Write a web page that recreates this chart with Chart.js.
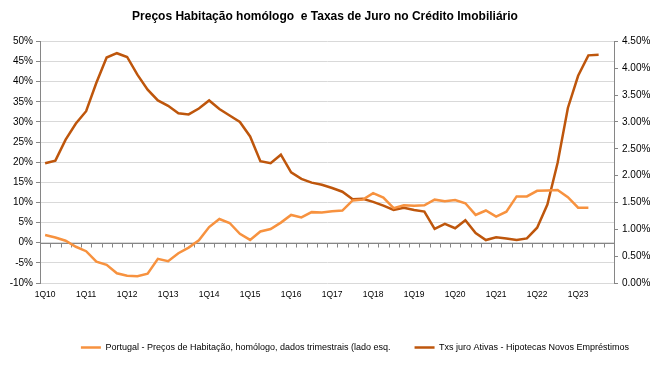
<!DOCTYPE html>
<html lang="pt">
<head>
  <meta charset="UTF-8" />
  <title>Preços Habitação e Taxas de Juro</title>
  <script src="https://cdn.jsdelivr.net/npm/chart.js"></script>
  <style>
    body { margin: 0; background: #fff; }
    #caixa { width: 650px; height: 384px; }
  </style>
</head>
<body>
  <div id="caixa"><canvas id="grafico"></canvas></div>

  <script>
    // trimestres 1Q10 .. 4Q23
    const trimestres = [
      '1Q10', '2Q10', '3Q10', '4Q10', '1Q11', '2Q11', '3Q11', '4Q11',
      '1Q12', '2Q12', '3Q12', '4Q12', '1Q13', '2Q13', '3Q13', '4Q13',
      '1Q14', '2Q14', '3Q14', '4Q14', '1Q15', '2Q15', '3Q15', '4Q15',
      '1Q16', '2Q16', '3Q16', '4Q16', '1Q17', '2Q17', '3Q17', '4Q17',
      '1Q18', '2Q18', '3Q18', '4Q18', '1Q19', '2Q19', '3Q19', '4Q19',
      '1Q20', '2Q20', '3Q20', '4Q20', '1Q21', '2Q21', '3Q21', '4Q21',
      '1Q22', '2Q22', '3Q22', '4Q22', '1Q23', '2Q23', '3Q23', '4Q23'
    ];

    // variação homóloga dos preços (%), eixo esquerdo
    const precosHabitacao = [
      1.9, 1.3, 0.5, -1.0, -2.1, -4.7, -5.5, -7.6,
      -8.2, -8.3, -7.7, -4.0, -4.6, -2.6, -1.2, 0.6,
      3.9, 5.9, 4.9, 2.2, 0.7, 2.8, 3.4, 5.0,
      6.9, 6.3, 7.6, 7.5, 7.8, 8.0, 10.5, 10.7,
      12.3, 11.2, 8.6, 9.3, 9.2, 9.3, 10.7, 10.3,
      10.6, 9.8, 6.9, 8.0, 6.5, 7.7, 11.5, 11.5,
      12.9, 13.0, 13.1, 11.3, 8.7, 8.7
    ];

    // taxa de juro novos empréstimos habitação (%), eixo direito
    const taxasJuro = [
      2.23, 2.28, 2.67, 2.97, 3.20, 3.73, 4.20, 4.28,
      4.21, 3.88, 3.60, 3.40, 3.30, 3.16, 3.14, 3.25,
      3.40, 3.24, 3.12, 3.00, 2.73, 2.27, 2.23, 2.39,
      2.06, 1.94, 1.87, 1.83, 1.77, 1.70, 1.56, 1.57,
      1.51, 1.44, 1.36, 1.40, 1.36, 1.33, 1.01, 1.10,
      1.02, 1.17, 0.93, 0.80, 0.85, 0.83, 0.80, 0.83,
      1.03, 1.46, 2.24, 3.26, 3.86, 4.24, 4.25
    ];

    const eixoEsq = { min: -10, max: 50, passo: 5 };
    const eixoDir = { min: 0, max: 4.5, passo: 0.5 };

    const fonte = "'Liberation Sans', Arial, sans-serif";

    // linha do zero com marcas entre trimestres (estilo Excel)
    const linhaZero = {
      id: 'linhaZero',
      beforeDatasetsDraw(chart) {
        const { ctx, chartArea, scales } = chart;
        const y = Math.round(scales.y.getPixelForValue(0)) + 0.5;
        const n = trimestres.length;
        const passo = (chartArea.right - chartArea.left) / n;
        ctx.save();
        ctx.strokeStyle = '#868686';
        ctx.lineWidth = 1;
        ctx.beginPath();
        ctx.moveTo(chartArea.left, y);
        ctx.lineTo(chartArea.right, y);
        for (let i = 1; i < n; i++) {
          const x = Math.round(chartArea.left + passo * i) + 0.5;
          ctx.moveTo(x, y);
          ctx.lineTo(x, y + 4);
        }
        ctx.stroke();
        ctx.restore();
      }
    };

    // a legenda do original não está centrada
    const moveLegenda = {
      id: 'moveLegenda',
      afterLayout(chart) {
        chart.legend.left += 30;
        chart.legend.right += 30;
        chart.legend.top -= 14;
        chart.legend.bottom -= 14;
      }
    };

    const ctx = document.getElementById('grafico').getContext('2d');
    new Chart(ctx, {
      type: 'line',
      data: {
        labels: trimestres,
        datasets: [
          {
            label: 'Portugal - Preços de Habitação, homólogo, dados trimestrais (lado esq.',
            data: precosHabitacao,
            borderColor: '#F7923F',
            backgroundColor: '#F7923F',
            borderWidth: 2.5,
            pointRadius: 0,
            tension: 0,
            yAxisID: 'y'
          },
          {
            label: 'Txs juro Ativas - Hipotecas Novos Empréstimos',
            data: taxasJuro,
            borderColor: '#BE560C',
            backgroundColor: '#BE560C',
            borderWidth: 2.5,
            pointRadius: 0,
            tension: 0,
            yAxisID: 'y1'
          }
        ]
      },
      options: {
        responsive: true,
        maintainAspectRatio: false,
        animation: false,
        layout: { padding: { left: 0, right: 0, top: 0, bottom: 8 } },
        plugins: {
          title: {
            display: true,
            text: 'Preços Habitação homólogo  e Taxas de Juro no Crédito Imobiliário',
            color: '#000',
            font: { family: fonte, size: 12, weight: 'bold' },
            padding: { top: 9, bottom: 18 }
          },
          legend: {
            position: 'bottom',
            labels: {
              color: '#000',
              font: { family: fonte, size: 9 },
              usePointStyle: true,
              pointStyle: 'line',
              pointStyleWidth: 20,
              padding: 24
            }
          },
          tooltip: { enabled: false }
        },
        scales: {
          x: {
            offset: true,
            grid: { display: false, offset: true, tickLength: 5 },
            border: { display: false },
            ticks: {
              autoSkip: false,
              maxRotation: 0,
              padding: 2,
              color: '#000',
              font: { family: fonte, size: 8.5 },
              callback: function (v) {
                const t = this.getLabelForValue(v);
                return t.startsWith('1Q') ? t : '';
              }
            },
            afterFit: s => { s.height = 50; }
          },
          y: {
            position: 'left',
            min: eixoEsq.min,
            max: eixoEsq.max,
            ticks: {
              stepSize: eixoEsq.passo,
              color: '#000',
              font: { family: fonte, size: 10 },
              padding: 3,
              callback: v => v + '%'
            },
            grid: { color: '#D9D9D9', tickColor: '#868686', tickLength: 4 },
            border: { color: '#868686' },
            afterFit: s => { s.width = 40; }
          },
          y1: {
            position: 'right',
            min: eixoDir.min,
            max: eixoDir.max,
            ticks: {
              stepSize: eixoDir.passo,
              color: '#000',
              font: { family: fonte, size: 10 },
              padding: 4,
              callback: v => v.toFixed(2) + '%'
            },
            grid: { drawOnChartArea: false, tickColor: '#868686', tickLength: 4 },
            border: { color: '#868686' },
            afterFit: s => { s.width = 36; }
          }
        }
      },
      plugins: [linhaZero, moveLegenda]
    });
  </script>
</body>
</html>
